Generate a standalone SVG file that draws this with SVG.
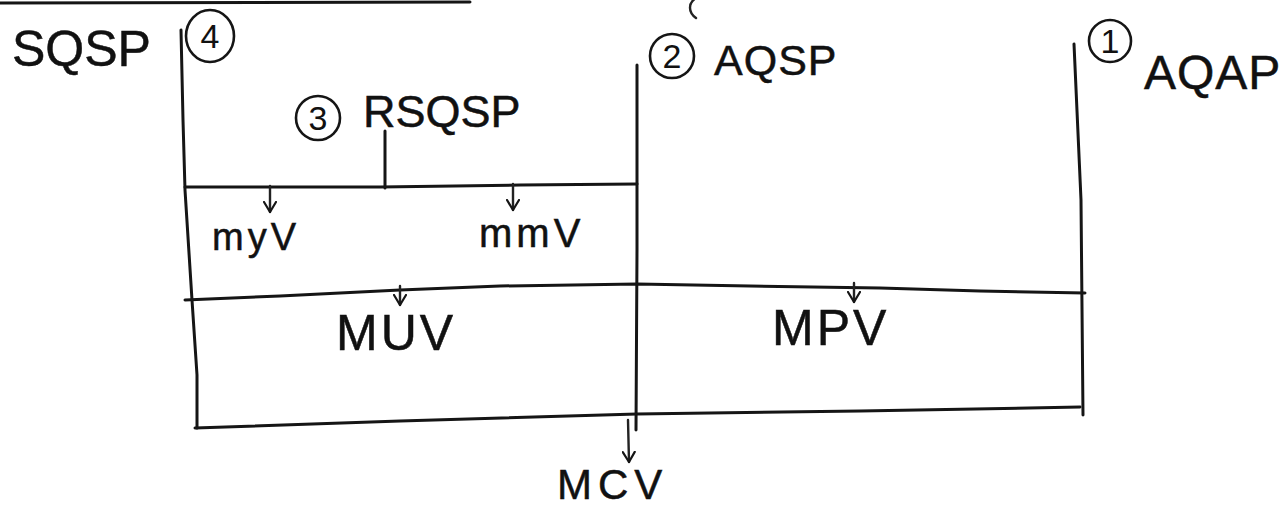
<svg xmlns="http://www.w3.org/2000/svg" width="1288" height="510" viewBox="0 0 1288 510">
<style>
.ln{fill:none;stroke:#151515;stroke-width:3;stroke-linecap:round;stroke-linejoin:round}
.thin{fill:none;stroke:#222;stroke-width:2.4;stroke-linecap:round}
.t{font-family:"Liberation Sans",Arial,sans-serif;fill:#111;stroke:#111;stroke-width:0.5}
.circ{fill:none;stroke:#151515;stroke-width:2.6}
.num{font-family:"Liberation Sans",Arial,sans-serif;font-size:34px;fill:#111;text-anchor:middle}
</style>
<defs>
<marker id="ah" viewBox="0 0 12 14" refX="11" refY="7" markerWidth="12" markerHeight="14" orient="auto" markerUnits="userSpaceOnUse">
<path d="M1,1 L11,7 L1,13" fill="none" stroke="#151515" stroke-width="2.2" stroke-linecap="round" stroke-linejoin="round"/>
</marker>
</defs>
<rect width="1288" height="510" fill="#ffffff"/>
<g id="frame">
<path class="ln" d="M0,3 L470,2"/>
<path class="ln" d="M181,30 L183,120 L185,190 L192,300 L197,375 L197,428"/>
<path class="ln" d="M637,65 L637,250 L636,430"/>
<path class="ln" d="M1074,44 L1081,200 L1083,415"/>
<path class="ln" d="M185,187 L380,187 L520,185 L637,184"/>
<path class="ln" d="M185,300 L280,296 L400,290 L500,286 L637,284 L750,286 L880,288 L980,291 L1085,293"/>
<path class="ln" d="M195,428 L400,421 L637,414 L860,411 L1080,407"/>
<path class="ln" d="M385,131 L385,188"/>
</g>
<g id="connectors">
<path class="thin" d="M270,186 L270,212" marker-end="url(#ah)"/>
<path class="thin" d="M513,184 L513,210" marker-end="url(#ah)"/>
<path class="thin" d="M400,286 L400,305" marker-end="url(#ah)"/>
<path class="thin" d="M854,283 L854,302" marker-end="url(#ah)"/>
<path class="thin" d="M628,420 L629,462" marker-end="url(#ah)"/>
</g>
<g id="node-sqsp">
<text class="t" x="12" y="66" font-size="50">SQSP</text>
<ellipse class="circ" cx="210" cy="36" rx="24" ry="26"/>
<text class="num" x="210" y="48">4</text>
</g>
<g id="node-rsqsp">
<circle class="circ" cx="318" cy="118" r="22"/>
<text class="num" x="318" y="130">3</text>
<text class="t" x="363" y="127" font-size="45">RSQSP</text>
</g>
<g id="node-aqsp">
<circle class="circ" cx="672" cy="56" r="22"/>
<text class="num" x="672" y="68">2</text>
<text class="t" x="714" y="75" font-size="43" letter-spacing="1">AQSP</text>
<path class="thin" d="M696,18 C688,12 688,3 696,-2" stroke="#777"/>
</g>
<g id="node-aqap">
<circle class="circ" cx="1110" cy="41" r="21"/>
<text class="num" x="1110" y="53">1</text>
<text class="t" x="1144" y="89" font-size="48" letter-spacing="1">AQAP</text>
</g>
<g id="node-myv">
<text class="t" x="212" y="250" font-size="38" letter-spacing="4">myV</text>
</g>
<g id="node-mmv">
<text class="t" x="479" y="247" font-size="40" letter-spacing="4">mmV</text>
</g>
<g id="node-muv">
<text class="t" x="336" y="350" font-size="50" letter-spacing="3">MUV</text>
</g>
<g id="node-mpv">
<text class="t" x="772" y="345" font-size="50" letter-spacing="3">MPV</text>
</g>
<g id="node-mcv">
<text class="t" x="557" y="499" font-size="42" letter-spacing="6">MCV</text>
</g>
</svg>
